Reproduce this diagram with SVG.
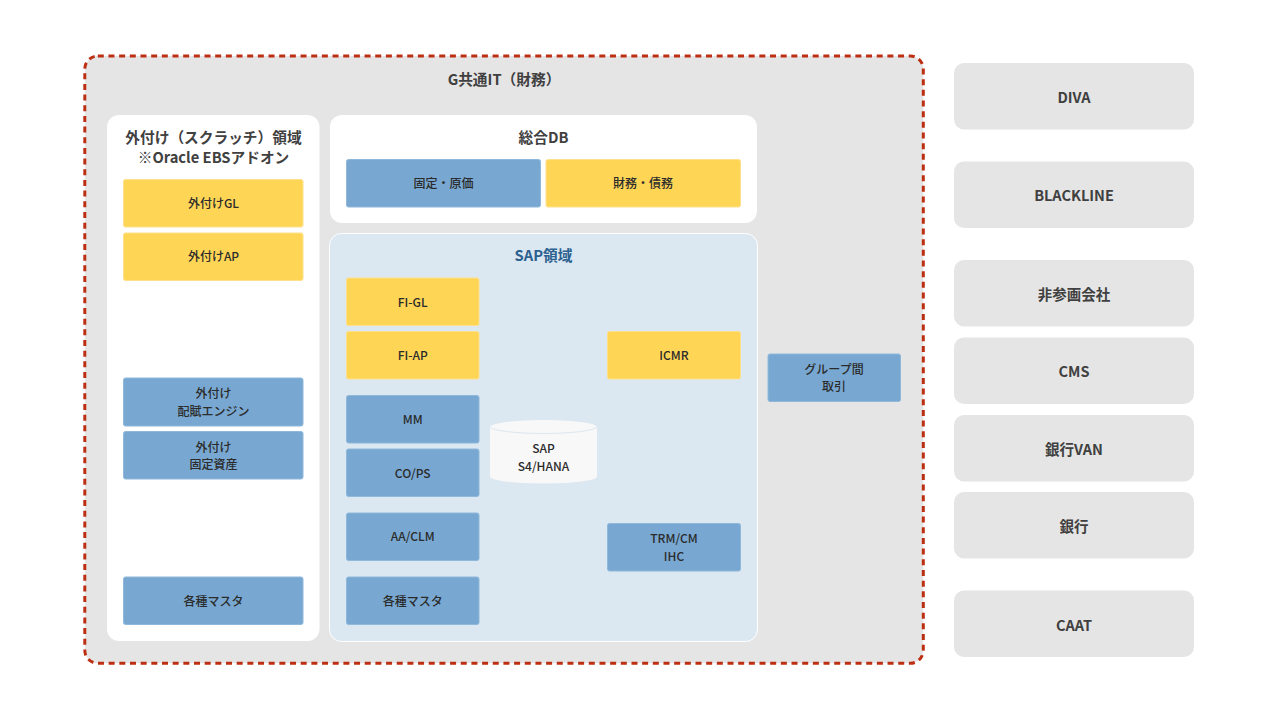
<svg xmlns="http://www.w3.org/2000/svg" width="1280" height="720" viewBox="0 0 1280 720">
<style>
text{font-family:"Noto Sans CJK JP","Noto Sans",sans-serif;text-anchor:middle;fill:#333}
.t{font-size:14.7px;font-weight:700;fill:#404040}
.s{font-size:12px;font-weight:500;fill:#2b2b2b}
.e{font-size:14.5px;font-weight:700;fill:#404040}
.b{fill:#78a8d1;stroke:#8fb8da;stroke-width:1}
.y{fill:#ffd556;stroke:#ffe08a;stroke-width:1}
.x{fill:#e5e5e5}
</style>
<g id="g-it"><rect x="84.800" y="56" width="838.500" height="607.300" rx="13" fill="#e5e5e5" stroke="#bc2f12" stroke-width="3" stroke-dasharray="6 4.67"/><text class="t" x="504" y="85">G共通IT（財務）</text></g>
<g id="left-panel"><rect x="107" y="115" width="212.500" height="526" rx="12" fill="#fff"/><text class="t" x="213.500" y="143">外付け（スクラッチ）領域</text><text class="t" x="213.500" y="163">※Oracle EBSアドオン</text></g>
<g id="db-panel"><rect x="330" y="115" width="427" height="108" rx="12" fill="#fff"/><text class="t" x="543.500" y="143">総合DB</text></g>
<g id="sap-panel"><rect x="329.500" y="233.500" width="428" height="408" rx="12" fill="#dbe7f1" stroke="#fff" stroke-width="1"/><text class="t" x="543.500" y="261" style="fill:#2c6190">SAP領域</text></g>
<g id="gaitsuke-gl"><rect class="y" x="123.500" y="179.500" width="179.500" height="47.500" rx="2"/><text class="s" x="213.500" y="208">外付けGL</text></g>
<g id="gaitsuke-ap"><rect class="y" x="123.500" y="233" width="179.500" height="47.500" rx="2"/><text class="s" x="213.500" y="261">外付けAP</text></g>
<g id="gaitsuke-haifu"><rect class="b" x="123.500" y="378" width="179.500" height="48" rx="2"/><text class="s" x="213.500" y="398">外付け</text><text class="s" x="213.500" y="415.500">配賦エンジン</text></g>
<g id="gaitsuke-kotei"><rect class="b" x="123.500" y="431.500" width="179.500" height="47.500" rx="2"/><text class="s" x="213.500" y="451.500">外付け</text><text class="s" x="213.500" y="469">固定資産</text></g>
<g id="master-left"><rect class="b" x="123.500" y="577" width="179.500" height="47.500" rx="2"/><text class="s" x="213.500" y="605.500">各種マスタ</text></g>
<g id="kotei-genka"><rect class="b" x="346.500" y="159.500" width="194" height="47.500" rx="2"/><text class="s" x="443.500" y="188">固定・原価</text></g>
<g id="zaimu-saimu"><rect class="y" x="546" y="159.500" width="194.500" height="47.500" rx="2"/><text class="s" x="643" y="188">財務・債務</text></g>
<g id="fi-gl"><rect class="y" x="346.500" y="278" width="132.500" height="47.500" rx="2"/><text class="s" x="412.700" y="307">FI-GL</text></g>
<g id="fi-ap"><rect class="y" x="346.500" y="331.500" width="132.500" height="47.500" rx="2"/><text class="s" x="412.700" y="360">FI-AP</text></g>
<g id="mm"><rect class="b" x="346.500" y="395.500" width="132.500" height="47.500" rx="2"/><text class="s" x="412.700" y="424">MM</text></g>
<g id="co-ps"><rect class="b" x="346.500" y="449" width="132.500" height="47.500" rx="2"/><text class="s" x="412.700" y="477.500">CO/PS</text></g>
<g id="aa-clm"><rect class="b" x="346.500" y="513" width="132.500" height="47.500" rx="2"/><text class="s" x="412.700" y="541">AA/CLM</text></g>
<g id="master-sap"><rect class="b" x="346.500" y="577" width="132.500" height="47.500" rx="2"/><text class="s" x="412.700" y="605.500">各種マスタ</text></g>
<g id="icmr"><rect class="y" x="607.500" y="331.500" width="133" height="47.500" rx="2"/><text class="s" x="674" y="360">ICMR</text></g>
<g id="trm"><rect class="b" x="607.500" y="523.500" width="133" height="47.500" rx="2"/><text class="s" x="674" y="543">TRM/CM</text><text class="s" x="674" y="561">IHC</text></g>
<g id="s4hana"><path d="M490 426.500V476.500C490 480.500 514 483.500 543.500 483.500S597 480.500 597 476.500V426.500Z" fill="#f8f8f8"/><ellipse cx="543.500" cy="426.500" rx="53.500" ry="7" fill="#f8f8f8" stroke="#dbe7f1" stroke-width="1"/><text class="s" x="543.500" y="453">SAP</text><text class="s" x="543.500" y="471">S4/HANA</text></g>
<g id="group-kan"><rect class="b" x="768" y="354" width="132.500" height="47.500" rx="2"/><text class="s" x="834" y="374">グループ間</text><text class="s" x="834" y="391">取引</text></g>
<g id="diva"><rect class="x" x="954" y="63" width="240" height="66.500" rx="10"/><text class="e" x="1074" y="102.500">DIVA</text></g>
<g id="blackline"><rect class="x" x="954" y="161.500" width="240" height="66.500" rx="10"/><text class="e" x="1074" y="201">BLACKLINE</text></g>
<g id="hisankagaisha"><rect class="x" x="954" y="260" width="240" height="66.500" rx="10"/><text class="e" x="1074" y="300">非参画会社</text></g>
<g id="cms"><rect class="x" x="954" y="337.500" width="240" height="66.500" rx="10"/><text class="e" x="1074" y="377">CMS</text></g>
<g id="ginko-van"><rect class="x" x="954" y="415" width="240" height="66.500" rx="10"/><text class="e" x="1074" y="454.500">銀行VAN</text></g>
<g id="ginko"><rect class="x" x="954" y="492" width="240" height="66.500" rx="10"/><text class="e" x="1074" y="532">銀行</text></g>
<g id="caat"><rect class="x" x="954" y="590.500" width="240" height="66.500" rx="10"/><text class="e" x="1074" y="630.500">CAAT</text></g>
<g id="connectors"></g>
</svg>
